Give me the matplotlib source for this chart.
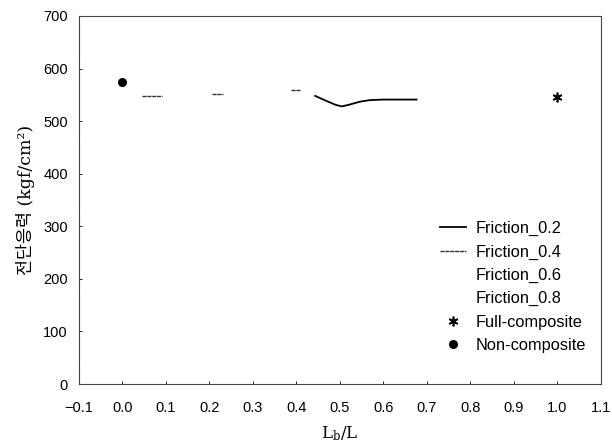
import numpy as np
import matplotlib
matplotlib.use("Agg")
import matplotlib.pyplot as plt

plt.rcParams.update({
    "font.family": ["Liberation Sans", "DejaVu Sans"],
    "mathtext.fontset": "dejavuserif",
    "font.size": 8.5,
    "axes.linewidth": 0.8,
    "figure.facecolor": "white",
})

# Friction_0.2 (solid black curve)
f02_x = [0.443, 0.47, 0.49, 0.504, 0.52, 0.546, 0.569, 0.60, 0.64, 0.676]
f02_y = [548, 538, 531, 528, 531, 537, 540, 541, 541, 541]
# Friction_0.4 (thin gray, fragmentary)
f04_x = [0.044, 0.09, np.nan, 0.206, 0.23, np.nan, 0.387, 0.408]
f04_y = [548, 548, np.nan, 551, 551, np.nan, 560, 560]
# Friction_0.6 / 0.8 (not visible in the scan)
f06_x, f06_y = [], []
f08_x, f08_y = [], []
full_x, full_y = [1.0], [546]
non_x, non_y = [0.0], [574]

xticks = np.arange(-0.1, 1.11, 0.1)

fig, ax = plt.subplots(figsize=(6.12, 4.43), dpi=100)
fig.subplots_adjust(left=0.129, right=0.982, top=0.964, bottom=0.133)

ax.plot(f02_x, f02_y, color="black", lw=1.3, label="Friction_0.2")
ax.plot(f04_x, f04_y, color="#333333", lw=1.0, ls=(0, (3, 0.5)), label="Friction_0.4")
ax.plot(f06_x, f06_y, color="white", lw=1.0, label="Friction_0.6")
ax.plot(f08_x, f08_y, color="white", lw=1.0, label="Friction_0.8")
ax.plot(full_x, full_y, ls="none", marker=(6, 2, 0), ms=7, mew=1.2,
        color="black", label="Full-composite")
ax.plot(non_x, non_y, ls="none", marker="o", ms=5.5, color="black",
        label="Non-composite")

ax.set_xlim(-0.1, 1.1)
ax.set_ylim(0, 700)
ax.set_xticks(xticks)
ax.set_xticklabels([f"{v:.1f}".replace("-", "\u2212") for v in xticks])
ax.set_yticks(range(0, 701, 100))
ax.tick_params(axis="both", direction="in", length=2, width=0.6, labelsize=10.5)
ax.tick_params(axis="x", pad=12)
ax.tick_params(axis="y", pad=8)
for s in ax.spines.values():
    s.set_color("#444444")
    s.set_linestyle((0, (3, 0.8)))

ax.set_xlabel(r"$\mathrm{L_b/L}$", fontsize=12, labelpad=7)
ax.set_ylabel("전단응력 (kgf/cm²)", fontsize=12.5,
              family=["DejaVu Serif", "Noto Sans CJK KR"], labelpad=6)

ax.legend(loc="lower right", frameon=False, fontsize=11.8, handlelength=1.6,
          labelspacing=0.5, handletextpad=0.6, bbox_to_anchor=(1.0, 0.045))

fig.savefig("out.png", dpi=100)
